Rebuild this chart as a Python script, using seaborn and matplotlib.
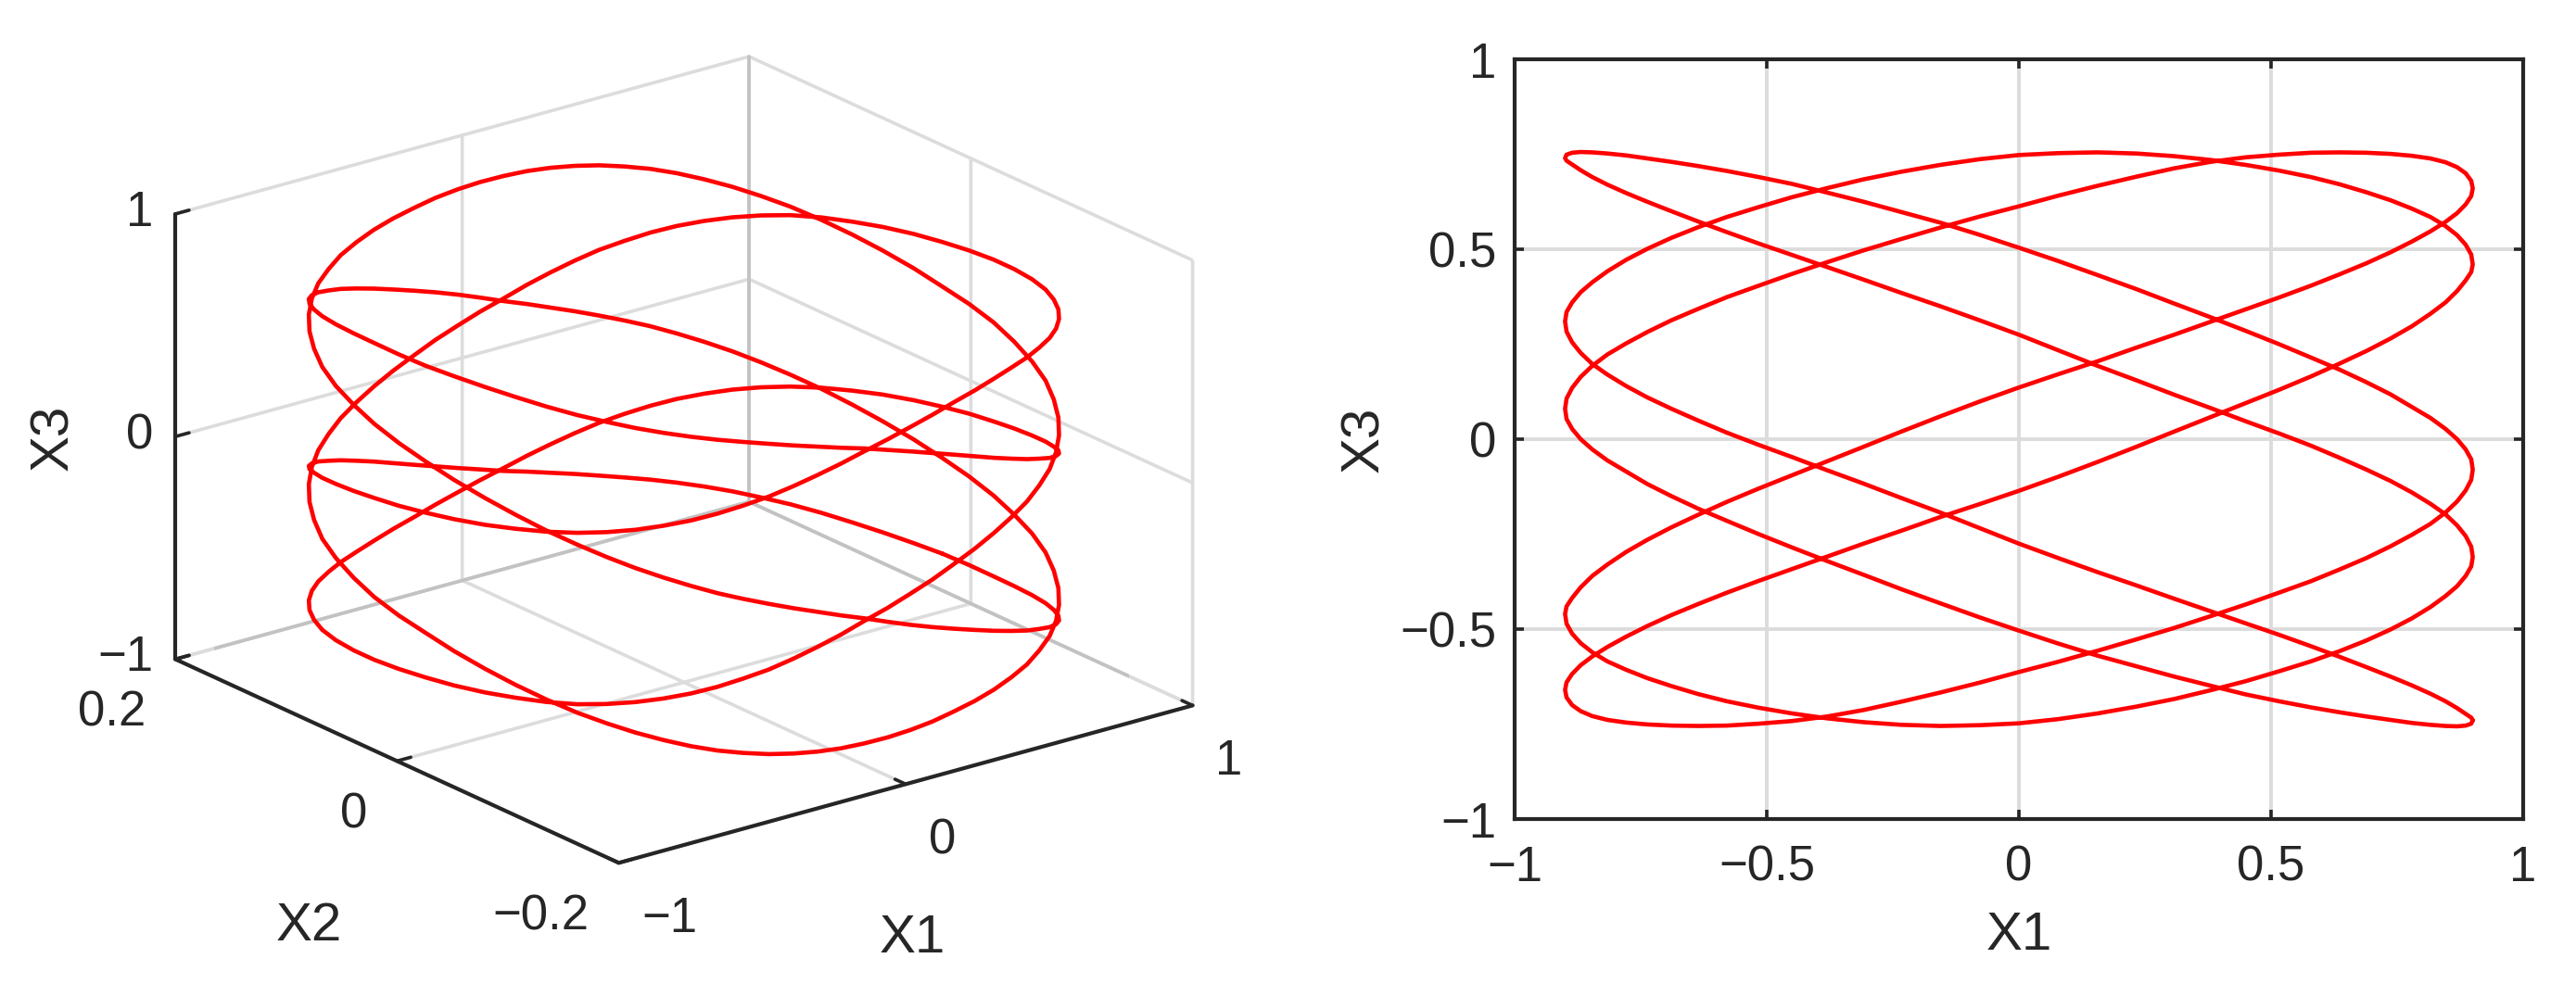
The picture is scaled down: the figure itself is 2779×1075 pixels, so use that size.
import pandas as pd
import matplotlib
matplotlib.use("Agg")
import matplotlib.pyplot as plt
import seaborn as sns

# X1 and X2 along one sweep, right to left and left to right
x1_rl = [.900,.897,.886,.869,.846,.816,.779,.737,.689,.636,.579,.516,.450,.380,.308,.233,.156,.078,0,
         -.078,-.156,-.233,-.308,-.380,-.450,-.516,-.579,-.636,-.689,-.737,-.779,-.816,-.846,-.869,-.886,-.897,-.900]
x1_lr = [-.900,-.897,-.886,-.869,-.846,-.816,-.779,-.737,-.689,-.636,-.579,-.516,-.450,-.380,-.308,-.233,-.156,-.078,0,
         .078,.156,.233,.308,.380,.450,.516,.579,.636,.689,.737,.779,.816,.846,.869,.886,.897,.900]
x2_rl = [0,.025,.05,.073,.095,.115,.132,.147,.16,.171,.18,.187,.193,.197,.2,.202,.203,.204,.204,
         .204,.203,.202,.2,.197,.193,.187,.18,.171,.16,.147,.132,.115,.095,.073,.05,.025,0]
x2_lr = [0,-.025,-.05,-.073,-.095,-.115,-.132,-.147,-.16,-.171,-.18,-.187,-.193,-.197,-.2,-.202,-.203,-.204,-.204,
         -.204,-.203,-.202,-.2,-.197,-.193,-.187,-.18,-.171,-.16,-.147,-.132,-.115,-.095,-.073,-.05,-.025,0]

# X3 along the ten sweeps of the curve
x3_s1 = [-.74,-.749,-.754,-.756,-.755,-.752,-.747,-.739,-.73,-.719,-.706,-.69,-.672,-.649,-.625,-.598,-.57,-.538,-.504,
         -.469,-.432,-.395,-.357,-.321,-.285,-.25,-.215,-.183,-.15,-.118,-.085,-.056,-.027,0,.027,.053,.08]
x3_s2 = [.08,.107,.135,.164,.193,.223,.252,.282,.313,.343,.374,.404,.435,.466,.497,.527,.557,.586,.613,
         .641,.667,.691,.713,.730,.742,.749,.754,.755,.754,.751,.746,.739,.729,.716,.70,.68,.66]
x3_s3 = [.66,.64,.618,.595,.572,.547,.52,.492,.463,.434,.404,.373,.342,.309,.275,.241,.205,.171,.136,
         .099,.06,.02,-.02,-.058,-.095,-.13,-.165,-.199,-.232,-.265,-.297,-.33,-.36,-.39,-.418,-.44,-.46]
x3_s4 = [-.46,-.486,-.512,-.537,-.561,-.585,-.607,-.629,-.65,-.671,-.69,-.707,-.722,-.735,-.745,-.752,-.755,-.753,-.748,
         -.737,-.722,-.704,-.684,-.661,-.637,-.611,-.585,-.558,-.53,-.501,-.472,-.442,-.413,-.387,-.36,-.335,-.31]
x3_s5 = [-.31,-.283,-.255,-.227,-.198,-.17,-.14,-.11,-.08,-.049,-.017,.015,.047,.082,.117,.155,.193,.234,.275,
         .313,.35,.385,.42,.453,.485,.515,.545,.573,.60,.625,.648,.67,.69,.708,.723,.733,.74]
x3_s6 = [.74,.749,.754,.756,.755,.752,.747,.739,.73,.719,.706,.69,.672,.649,.625,.598,.57,.538,.504,
         .469,.432,.395,.357,.321,.285,.25,.215,.183,.15,.118,.085,.056,.027,0,-.027,-.053,-.08]
x3_s7 = [-.08,-.107,-.135,-.164,-.193,-.223,-.252,-.282,-.313,-.343,-.374,-.404,-.435,-.466,-.497,-.527,-.557,-.586,-.613,
         -.641,-.667,-.691,-.713,-.730,-.742,-.749,-.754,-.755,-.754,-.751,-.746,-.739,-.729,-.716,-.70,-.68,-.66]
x3_s8 = [-.66,-.64,-.618,-.595,-.572,-.547,-.52,-.492,-.463,-.434,-.404,-.373,-.342,-.309,-.275,-.241,-.205,-.171,-.136,
         -.099,-.06,-.02,.02,.058,.095,.13,.165,.199,.232,.265,.297,.33,.36,.39,.418,.44,.46]
x3_s9 = [.46,.486,.512,.537,.561,.585,.607,.629,.65,.671,.69,.707,.722,.735,.745,.752,.755,.753,.748,
         .737,.722,.704,.684,.661,.637,.611,.585,.558,.53,.501,.472,.442,.413,.387,.36,.335,.31]
x3_s10 = [.31,.283,.255,.227,.198,.17,.14,.11,.08,.049,.017,-.015,-.047,-.082,-.117,-.155,-.193,-.234,-.275,
          -.313,-.35,-.385,-.42,-.453,-.485,-.515,-.545,-.573,-.60,-.625,-.648,-.67,-.69,-.708,-.723,-.733,-.74]

x1_values = (x1_rl + x1_lr) * 5
x2_values = (x2_rl + x2_lr) * 5
x3_values = x3_s1 + x3_s2 + x3_s3 + x3_s4 + x3_s5 + x3_s6 + x3_s7 + x3_s8 + x3_s9 + x3_s10

x1_ticks_3d = [-1, 0, 1]
x2_ticks_3d = [-0.2, 0, 0.2]
x3_ticks_3d = [-1, 0, 1]
ticks_2d = [-1, -0.5, 0, 0.5, 1]

W, H = 2779, 1075
sns.set_theme(style="white")
plt.rcParams["font.family"] = ["Liberation Sans", "DejaVu Sans"]
plt.rcParams["axes.unicode_minus"] = True
INK = "#262626"
RED = "#ff0000"
EDGE = "#c2c2c2"
FS = 38
LABFS = 42
LW = 3.3

fig = plt.figure(figsize=(W / 100, H / 100), dpi=100, facecolor="white")

# left: 3D view
S = 987
ax3 = fig.add_axes([231 / W, (H - 1003) / H, S / W, S / H], projection="3d", proj_type="ortho",
                   facecolor="none", computed_zorder=False)
ax3.view_init(elev=20.8, azim=-127.7)
ax3.set_box_aspect((1, 1, 0.657), zoom=1.2)
ax3.set_xlim(-1, 1)
ax3.set_ylim(-0.2, 0.2)
ax3.set_zlim(-1, 1)
ax3.plot([1, 1], [0.2, 0.2], [-1, 1], color=EDGE, lw=2.6, zorder=2)
ax3.plot([-1, 1], [0.2, 0.2], [-1, -1], color=EDGE, lw=2.6, zorder=2)
ax3.plot([1, 1], [-0.2, 0.2], [-1, -1], color=EDGE, lw=2.6, zorder=2)
ax3.plot(x1_values, x2_values, x3_values, color=RED, lw=LW, solid_joinstyle="round", zorder=5)
ax3.set_xticks(x1_ticks_3d)
ax3.set_yticks(x2_ticks_3d)
ax3.set_zticks(x3_ticks_3d)
ax3.set_xticklabels(["\u22121", "0", "1"], fontsize=FS, color=INK)
ax3.set_yticklabels(["\u22120.2", "0", "0.2"], fontsize=FS, color=INK)
ax3.set_zticklabels(["\u22121", "0", "1"], fontsize=FS, color=INK)
for axis, pad in ((ax3.xaxis, 11), (ax3.yaxis, 11), (ax3.zaxis, 0)):
    axis.set_pane_color((1, 1, 1, 0))
    axis.pane.set_edgecolor("#dcdcdc")
    axis.pane.set_linewidth(2.6)
    axis.line.set_color(INK)
    axis.line.set_linewidth(3)
    axis._axinfo["grid"].update(color="#dcdcdc", linewidth=2.6)
    axis._axinfo["tick"].update(inward_factor=0.0, outward_factor=0.3,
                                linewidth={True: 2.6, False: 2.6}, color=INK)
    axis.set_tick_params(pad=pad, color=INK)
for t in ax3.xaxis.get_major_ticks():
    t.label1.set_ha("left")
for t in ax3.yaxis.get_major_ticks():
    t.label1.set_ha("right")
for t in ax3.zaxis.get_major_ticks():
    t.label1.set_ha("right")
    t.label1.set_va("center")
fig.text(984 / W, 1 - 1013 / H, "X1", fontsize=LABFS, color=INK, ha="center", va="center")
fig.text(333 / W, 1 - 1000 / H, "X2", fontsize=LABFS, color=INK, ha="center", va="center")
fig.text(58 / W, 1 - 472 / H, "X3", fontsize=LABFS, color=INK, ha="center", va="center", rotation=90)

# right: 2D view
ax2 = fig.add_axes([1634 / W, (H - 884) / H, 1088 / W, 820 / H])
curve = pd.DataFrame({"X1": x1_values, "X3": x3_values})
sns.lineplot(data=curve, x="X1", y="X3", sort=False, estimator=None, color=RED, lw=LW, ax=ax2, zorder=3)
ax2.set_xlim(-1, 1)
ax2.set_ylim(-1, 1)
ax2.set_xticks(ticks_2d)
ax2.set_yticks(ticks_2d)
ax2.set_xticklabels(["\u22121", "\u22120.5", "0", "0.5", "1"])
ax2.set_yticklabels(["\u22121", "\u22120.5", "0", "0.5", "1"])
ax2.grid(True, color="#dcdcdc", lw=2.8)
ax2.set_axisbelow(True)
ax2.tick_params(direction="in", length=7, width=2.6, color=INK, labelcolor=INK, labelsize=FS,
                top=True, right=True, bottom=True, left=True)
ax2.tick_params(axis="x", pad=20)
ax2.tick_params(axis="y", pad=14)
for sp in ax2.spines.values():
    sp.set_visible(True)
    sp.set_color(INK)
    sp.set_linewidth(3)
ax2.set_xlabel("X1", fontsize=LABFS, color=INK, labelpad=15)
ax2.set_ylabel("X3", fontsize=LABFS, color=INK, labelpad=8)

fig.savefig("out.png", dpi=100, facecolor="white")
